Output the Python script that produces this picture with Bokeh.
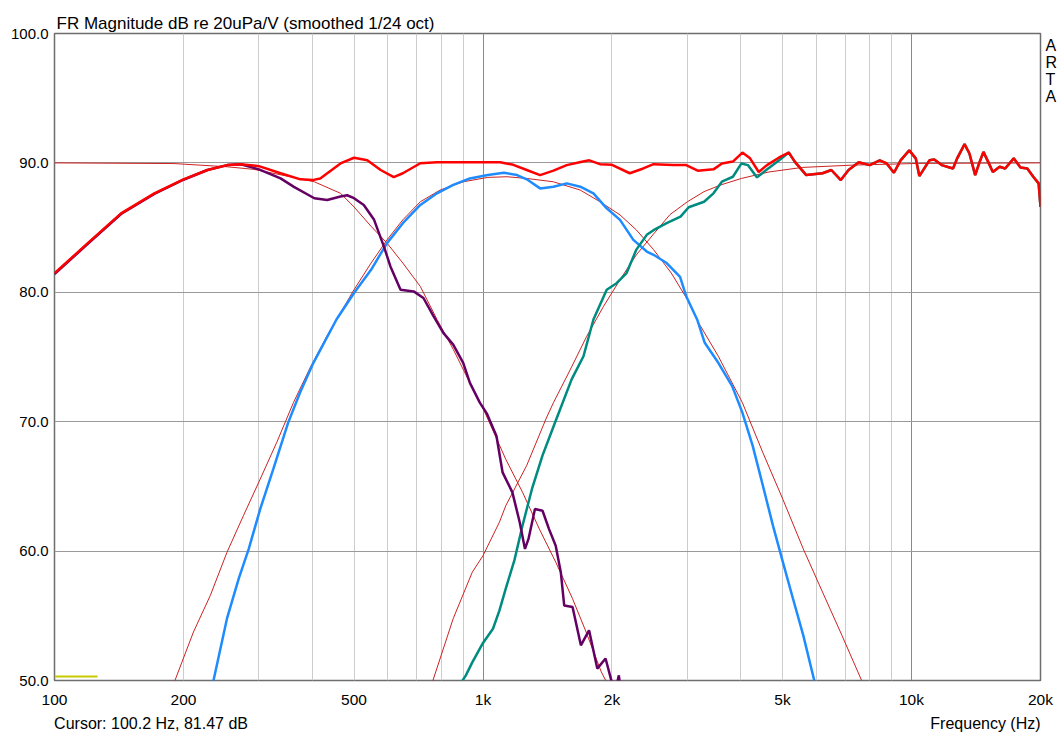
from bokeh.plotting import figure
from bokeh.models import Range1d, FixedTicker, LogAxis, LinearAxis
from bokeh.embed import file_html
from bokeh.resources import INLINE

# ---------------- data ----------------
title_text = "FR Magnitude dB re 20uPa/V (smoothed 1/24 oct)"
cursor_text = "Cursor: 100.2 Hz, 81.47 dB"
xlabel_text = "Frequency (Hz)"
brand_letters = ["A", "R", "T", "A"]

x_ticks = [100, 200, 500, 1000, 2000, 5000, 10000, 20000]
x_tick_labels = ["100", "200", "500", "1k", "2k", "5k", "10k", "20k"]
y_ticks = [50, 60, 70, 80, 90, 100]
y_tick_labels = ["50.0", "60.0", "70.0", "80.0", "90.0", "100.0"]
x_grid_major = [100, 1000, 10000]
x_grid_minor = [200, 300, 400, 500, 600, 700, 800, 900,
                2000, 3000, 4000, 5000, 6000, 7000, 8000, 9000]
y_grid = [60, 70, 80, 90]

# summed response (thick red)
sum_f = [100, 119.6, 143, 171, 200, 227.5, 253, 272, 300, 337, 375, 400, 417, 465,
         500, 537, 577, 619, 650, 714, 781, 900, 1000, 1097, 1177, 1265, 1359, 1460,
         1568, 1680, 1770, 1875, 2000, 2200, 2366, 2500, 2780, 2980, 3170, 3450, 3610,
         3830, 4030, 4200, 4400, 4600, 4910, 5170, 5340, 5680, 6200, 6500, 6840, 7130,
         7530, 7990, 8430, 8750, 9100, 9430, 9880, 10230, 10430, 11010, 11300, 11760,
         12500, 12780, 13300, 13650, 14080, 14380, 14720, 15090, 15480, 16060, 16540,
         17320, 17960, 18630, 19240, 19800, 20000]
sum_db = [81.47, 83.8, 86.1, 87.65, 88.73, 89.45, 89.83, 89.9, 89.75, 89.2, 88.73, 88.67,
          88.8, 89.96, 90.4, 90.2, 89.45, 88.9, 89.2, 89.97, 90.05, 90.05, 90.05, 90.05,
          89.85, 89.45, 89.06, 89.4, 89.83, 90.05, 90.2, 89.9, 89.85, 89.2, 89.57, 89.9,
          89.83, 89.83, 89.4, 89.5, 89.96, 90.1, 90.8, 90.35, 89.3, 89.83, 90.42, 90.8,
          90.1, 89.06, 89.2, 89.45, 88.67, 89.45, 90.05, 89.83, 90.2, 89.96, 89.24, 90.2,
          90.97, 90.35, 88.98, 90.2, 90.26, 89.83, 89.57, 90.35, 91.45, 90.73, 89.06,
          89.96, 90.85, 90.1, 89.3, 89.7, 89.57, 90.35, 89.65, 89.57, 88.93, 88.42, 86.6]

# woofer (purple)
woofer_f = [100, 119.6, 143, 171, 200, 227.5, 253, 272, 300, 337, 362, 404, 433, 465, 482,
            500, 527, 557, 587, 608, 642, 689, 726, 767, 808, 852, 899, 932, 983, 1022,
            1075, 1111, 1171, 1218, 1253, 1277, 1322, 1377, 1426, 1478, 1519, 1547, 1618,
            1692, 1768, 1848, 1932, 1988, 2030, 2075, 2100]
woofer_db = [81.4, 83.75, 86.05, 87.6, 88.7, 89.45, 89.83, 89.9, 89.5, 88.8, 88.15, 87.27,
             87.13, 87.4, 87.5, 87.27, 86.75, 85.6, 83.55, 82.0, 80.2, 80.07, 79.56, 78.14,
             76.86, 75.96, 74.55, 73.0, 71.47, 70.6, 68.9, 66.08, 64.54, 62.23, 60.17, 60.94,
             63.25, 63.12, 61.7, 60.42, 58.37, 55.8, 55.68, 52.72, 53.88, 50.92, 51.7, 50.15,
             49.0, 50.4, 49.0]

# midrange (blue)
mid_f = [230, 235, 252.6, 269, 284, 302, 324, 351, 374, 402, 455, 500, 548, 597, 650, 714,
         781, 852, 932, 1026, 1119, 1201, 1265, 1359, 1460, 1568, 1686, 1810, 1944, 2088,
         2243, 2411, 2500, 2683, 2883, 2980, 3160, 3292, 3541, 3815, 4030, 4260, 4500,
         4750, 5010, 5290, 5590, 5930, 6000]
mid_db = [49.3, 50.0, 54.78, 57.86, 60.17, 63.25, 66.33, 69.93, 72.24, 74.55, 77.9, 79.95,
          81.74, 83.8, 85.34, 86.75, 87.65, 88.3, 88.8, 89.06, 89.24, 89.06, 88.73, 88.03,
          88.16, 88.42, 88.16, 87.65, 86.49, 85.6, 84.05, 83.15, 82.9, 82.26, 81.2, 79.7,
          77.9, 76.1, 74.55, 72.75, 70.7, 68.13, 65.05, 61.97, 59.15, 56.32, 53.49, 50.0,
          49.4]

# tweeter (teal)
tweeter_f = [880, 912, 944, 1000, 1055, 1092, 1130, 1184, 1237, 1301, 1377, 1475, 1610,
             1716, 1810, 1944, 2050, 2163, 2280, 2411, 2500, 2683, 2890, 3020, 3280, 3450,
             3610, 3830, 4010, 4150, 4360, 4580, 4910, 5170, 5340, 5680, 6200, 6500, 6840,
             7130, 7530, 7990, 8430, 8750, 9100, 9430, 9880, 10230, 10430, 11010, 11300,
             11760, 12500, 12780, 13300, 13650, 14080, 14380, 14720, 15090, 15480, 16060,
             16540, 17320, 17960, 18630, 19240, 19800, 20000]
tweeter_db = [49.6, 50.4, 51.4, 52.9, 54.0, 55.4, 57.1, 59.3, 62.0, 64.8, 67.4, 70.0, 73.27,
              75.06, 77.9, 80.2, 80.7, 81.49, 83.3, 84.44, 84.8, 85.34, 85.85, 86.57, 87.0,
              87.65, 88.55, 88.93, 89.96, 89.83, 88.88, 89.45, 90.2, 90.8, 90.1, 89.06,
              89.2, 89.45, 88.67, 89.45, 90.05, 89.83, 90.2, 89.96, 89.24, 90.2, 90.97,
              90.35, 88.98, 90.2, 90.26, 89.83, 89.57, 90.35, 91.45, 90.73, 89.06, 89.96,
              90.85, 90.1, 89.3, 89.7, 89.57, 90.35, 89.65, 89.57, 88.93, 88.42, 86.6]

# target curves (thin)
tgt_low_f = [100, 190, 253, 292, 349, 404, 465, 500, 548, 597, 650, 714, 781, 852, 932,
             1003, 1130, 1237, 1354, 1478, 1618, 1740, 1888, 1990]
tgt_low_db = [90.0, 89.95, 89.7, 89.5, 88.98, 88.54, 87.65, 86.6, 85.1, 83.8, 82.26, 80.45,
              77.9, 75.6, 73.0, 70.95, 67.1, 64.54, 61.7, 59.15, 56.32, 53.75, 50.67, 49.2]

tgt_mid_f = [185, 191, 211, 231, 252.6, 276, 302, 330, 361, 395, 432, 500, 548, 597, 650,
             714, 794, 900, 1026, 1137, 1265, 1460, 1686, 1875, 2088, 2280, 2500, 2750, 3000,
             3190, 3541, 4030, 4500, 5010, 5590, 6200, 6880, 7650, 7800]
tgt_mid_db = [49.5, 50.0, 53.75, 56.57, 59.9, 62.74, 65.56, 68.39, 71.47, 74.17, 76.6, 80.2,
              82.26, 84.05, 85.6, 87.0, 87.9, 88.54, 88.88, 88.93, 88.8, 88.54, 87.9, 87.0,
              85.98, 84.82, 83.3, 81.49, 79.43, 77.6, 75.06, 71.47, 67.6, 64.0, 60.17, 56.83,
              53.49, 50.0, 49.4]

tgt_high_f = [750, 764, 852, 944, 1000, 1092, 1130, 1264, 1402, 1460, 1597, 1746, 1910,
              2088, 2280, 2500, 2730, 3000, 3280, 3590, 4010, 4650, 5560, 7300, 10400, 20000]
tgt_high_db = [49.4, 50.0, 54.78, 58.37, 59.65, 62.23, 63.5, 66.6, 70.2, 71.47, 74.0, 76.6,
               78.9, 80.97, 82.9, 84.5, 86.0, 87.0, 87.78, 88.3, 88.8, 89.3, 89.65, 89.83,
               89.96, 90.0]

# small yellow marker at lower left
marker_f = [100, 126]
marker_db = [50.3, 50.3]

# ---------------- figure ----------------
FONT = "Liberation Sans"
p = figure(width=1060, height=734, x_axis_type="log",
           x_range=Range1d(100, 20000), y_range=Range1d(50, 100),
           output_backend="svg", toolbar_location=None, title=title_text,
           min_border_left=54, min_border_right=18, min_border_top=33,
           min_border_bottom=52)
p.background_fill_color = "white"
p.border_fill_color = "white"
p.outline_line_color = "#6e6e6e"
p.outline_line_width = 1.5

p.title.align = "left"
p.title.offset = 2
p.title.standoff = 2
p.title.text_font = FONT
p.title.text_font_size = "17px"
p.title.text_font_style = "normal"
p.title.text_color = "black"


def plain(ax, size, standoff):
    ax.axis_line_color = None
    ax.major_tick_line_color = None
    ax.minor_tick_line_color = None
    ax.major_tick_out = 0
    ax.major_tick_in = 0
    ax.major_label_text_font = FONT
    ax.major_label_text_font_size = size
    ax.major_label_text_color = "black"
    ax.major_label_standoff = standoff


# main axes
p.xaxis.ticker = FixedTicker(ticks=x_ticks)
p.xaxis.major_label_overrides = {t: s for t, s in zip(x_ticks, x_tick_labels)}
p.yaxis.ticker = FixedTicker(ticks=y_ticks)
p.yaxis.major_label_overrides = {t: s for t, s in zip(y_ticks, y_tick_labels)}
plain(p.xaxis[0], "15.5px", 10)
plain(p.yaxis[0], "15px", 6)

# bottom text row (cursor readout + axis name) as a second, tickless axis
text_row_pos = [168, 14880]
text_row = LogAxis(ticker=FixedTicker(ticks=text_row_pos),
                   major_label_overrides={text_row_pos[0]: cursor_text,
                                          text_row_pos[1]: xlabel_text})
plain(text_row, "16px", 4)
p.add_layout(text_row, "below")

# stacked brand letters on the right
brand_pos = [99.08, 97.77, 96.46, 95.15]
brand_axis = LinearAxis(ticker=FixedTicker(ticks=brand_pos),
                        major_label_overrides={t: c for t, c in zip(brand_pos, brand_letters)})
plain(brand_axis, "16px", 5)
p.add_layout(brand_axis, "right")

# grids
p.xgrid.ticker = FixedTicker(ticks=x_grid_major, minor_ticks=x_grid_minor)
p.xgrid.grid_line_color = "#8a8a8a"
p.xgrid.minor_grid_line_color = "#cccccc"
p.ygrid.ticker = FixedTicker(ticks=y_grid)
p.ygrid.grid_line_color = "#9a9a9a"

# curves
thin = "#cc2222"
p.line(tgt_low_f, tgt_low_db, line_color=thin, line_width=1)
p.line(tgt_mid_f, tgt_mid_db, line_color=thin, line_width=1)
p.line(tgt_high_f, tgt_high_db, line_color=thin, line_width=1)
p.line(mid_f, mid_db, line_color="#1e8cff", line_width=2.5)
p.line(tweeter_f, tweeter_db, line_color="#008b80", line_width=2.5)
p.line(woofer_f, woofer_db, line_color="#640064", line_width=2.5)
p.line(sum_f, sum_db, line_color="#ff0000", line_width=2.5)
p.line(marker_f, marker_db, line_color="#c8c800", line_width=2)

open("out.html", "w").write(file_html(p, INLINE))
